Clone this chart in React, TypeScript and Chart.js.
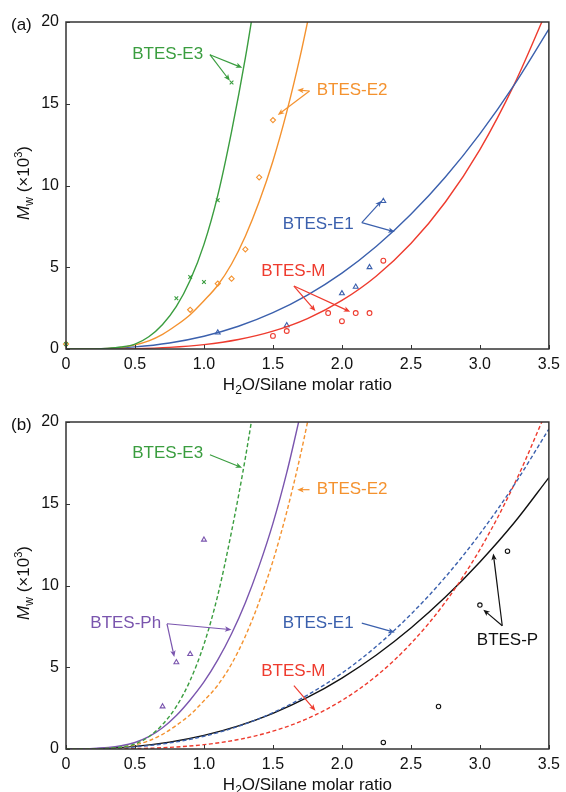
import React, { useEffect, useRef } from 'react';
import { Chart, registerables } from 'chart.js';

Chart.register(...registerables);

// ---------- axes ----------
const xTickValues = [0, 0.5, 1, 1.5, 2, 2.5, 3, 3.5];
const xTickLabels = ['0', '0.5', '1.0', '1.5', '2.0', '2.5', '3.0', '3.5'];
const yTickValues = [0, 5, 10, 15, 20];
const yTickLabels = ['0', '5', '10', '15', '20'];

// ---------- fitted curves ----------
const e3CurveX = [0, 0.2, 0.3, 0.4, 0.5, 0.6, 0.7, 0.8, 0.9, 1.0, 1.1, 1.2, 1.3, 1.4];
const e3CurveY = [0, 0.01, 0.04, 0.12, 0.3, 0.75, 1.5, 2.6, 4.2, 6.4, 9.4, 13.3, 17.8, 23.0];

const e2CurveX = [0, 0.2, 0.4, 0.5, 0.6, 0.7, 0.8, 0.9, 1.0, 1.1, 1.2, 1.3, 1.4, 1.5, 1.6, 1.7, 1.8];
const e2CurveY = [0, 0.01, 0.1, 0.25, 0.5, 0.9, 1.45, 2.1, 2.95, 3.9, 5.2, 6.9, 9.0, 11.5, 14.5, 18.0, 22.0];

const e1CurveX = [0, 0.25, 0.5, 0.75, 1, 1.25, 1.5, 1.75, 2, 2.25, 2.5, 2.75, 3, 3.25, 3.5];
const e1CurveY = [0, 0.02, 0.13, 0.37, 0.78, 1.39, 2.22, 3.3, 4.64, 6.28, 8.24, 10.52, 13.16, 16.17, 19.57];

const mCurveX = [0, 0.25, 0.5, 0.75, 1, 1.25, 1.5, 1.75, 2, 2.25, 2.5, 2.75, 3, 3.25, 3.5];
const mCurveY = [0, 0.002, 0.024, 0.098, 0.266, 0.578, 1.09, 1.86, 2.97, 4.47, 6.45, 8.99, 12.2, 16.2, 21.0];

const pCurveX = [0, 0.25, 0.5, 0.75, 1, 1.25, 1.5, 1.75, 2, 2.25, 2.5, 2.75, 3, 3.25, 3.5];
const pCurveY = [0, 0.03, 0.16, 0.42, 0.83, 1.41, 2.18, 3.15, 4.34, 5.75, 7.4, 9.29, 11.44, 13.85, 16.6];

const phCurveX = [0, 0.2, 0.4, 0.5, 0.6, 0.7, 0.8, 0.9, 1.0, 1.1, 1.2, 1.3, 1.4, 1.5, 1.6, 1.7];
const phCurveY = [0, 0.03, 0.2, 0.4, 0.75, 1.3, 2.05, 3.0, 4.1, 5.45, 7.05, 8.95, 11.2, 13.8, 16.9, 20.5];

// ---------- measured points ----------
const e3PtsX = [0, 0.8, 0.9, 1.0, 1.1, 1.2];
const e3PtsY = [0.3, 3.1, 4.4, 4.1, 9.1, 16.3];

const e2PtsX = [0, 0.9, 1.1, 1.2, 1.3, 1.4, 1.5];
const e2PtsY = [0.3, 2.4, 4.0, 4.3, 6.1, 10.5, 14.0];

const e1PtsX = [1.1, 1.6, 2.0, 2.1, 2.2, 2.3];
const e1PtsY = [1.0, 1.45, 3.4, 3.8, 5.0, 9.05];

const mPtsX = [1.5, 1.6, 1.9, 2.0, 2.1, 2.2, 2.3];
const mPtsY = [0.8, 1.1, 2.2, 1.7, 2.2, 2.2, 5.4];

const phPtsX = [0.7, 0.8, 0.9, 1.0];
const phPtsY = [2.6, 5.3, 5.8, 12.8];

const pPtsX = [2.3, 2.7, 3.0, 3.2];
const pPtsY = [0.4, 2.6, 8.8, 12.1];

// ---------- styling ----------
const GREEN = '#3a9d3f';
const ORANGE = '#f4922f';
const BLUE = '#3b60ad';
const RED = '#ee3b2e';
const PURPLE = '#7a55ae';
const BLACK = '#111111';
const FONT = '"Liberation Sans", Arial, Helvetica, sans-serif';

const zip = (xs: number[], ys: number[]) => xs.map((x, i) => ({ x, y: ys[i] }));

type Annot = { label: string; color: string; tx: number; ty: number; from: [number, number]; tips: [number, number][] };

const annotsA: Annot[] = [
  { label: 'BTES-E3', color: GREEN, tx: 0.737, ty: 18.04, from: [1.043, 18.0], tips: [[1.278, 17.2], [1.188, 16.4]] },
  { label: 'BTES-E2', color: ORANGE, tx: 2.074, ty: 15.84, from: [1.765, 15.78], tips: [[1.676, 15.84], [1.535, 14.31]] },
  { label: 'BTES-E1', color: BLUE, tx: 1.828, ty: 7.65, from: [2.144, 7.73], tips: [[2.288, 9.07], [2.383, 7.17]] },
  { label: 'BTES-M', color: RED, tx: 1.648, ty: 4.73, from: [1.652, 3.85], tips: [[1.808, 2.32], [2.06, 2.28]] },
];

const annotsB: Annot[] = [
  { label: 'BTES-E3', color: GREEN, tx: 0.737, ty: 18.06, from: [1.043, 18.0], tips: [[1.276, 17.2]] },
  { label: 'BTES-E2', color: ORANGE, tx: 2.074, ty: 15.86, from: [1.765, 15.86], tips: [[1.676, 15.86]] },
  { label: 'BTES-Ph', color: PURPLE, tx: 0.433, ty: 7.66, from: [0.732, 7.66], tips: [[1.199, 7.3], [0.785, 5.63]] },
  { label: 'BTES-E1', color: BLUE, tx: 1.828, ty: 7.66, from: [2.144, 7.7], tips: [[2.383, 7.13]] },
  { label: 'BTES-M', color: RED, tx: 1.648, ty: 4.75, from: [1.652, 3.87], tips: [[1.808, 2.34]] },
  { label: 'BTES-P', color: BLACK, tx: 3.2, ty: 6.64, from: [3.162, 7.54], tips: [[3.025, 8.52], [3.097, 11.95]] },
];

function drawArrow(ctx: CanvasRenderingContext2D, x0: number, y0: number, x1: number, y1: number, color: string) {
  const ang = Math.atan2(y1 - y0, x1 - x0);
  const L = 6.5;
  const W = 2.7;
  const c = Math.cos(ang);
  const s = Math.sin(ang);
  ctx.strokeStyle = color;
  ctx.fillStyle = color;
  ctx.lineWidth = 1.2;
  ctx.beginPath();
  ctx.moveTo(x0, y0);
  ctx.lineTo(x1 - c * L * 0.7, y1 - s * L * 0.7);
  ctx.stroke();
  ctx.beginPath();
  ctx.moveTo(x1, y1);
  ctx.lineTo(x1 - c * L + s * W, y1 - s * L - c * W);
  ctx.lineTo(x1 - c * L * 0.75, y1 - s * L * 0.75);
  ctx.lineTo(x1 - c * L - s * W, y1 - s * L + c * W);
  ctx.closePath();
  ctx.fill();
}

type Piece = { t: string; size: number; italic?: boolean; dy?: number };

function drawPieces(ctx: CanvasRenderingContext2D, pieces: Piece[], cx: number, cy: number, color: string) {
  let total = 0;
  const widths = pieces.map((p) => {
    ctx.font = `${p.italic ? 'italic ' : ''}${p.size}px ${FONT}`;
    const w = ctx.measureText(p.t).width;
    total += w;
    return w;
  });
  let x = cx - total / 2;
  ctx.fillStyle = color;
  ctx.textAlign = 'left';
  ctx.textBaseline = 'alphabetic';
  pieces.forEach((p, i) => {
    ctx.font = `${p.italic ? 'italic ' : ''}${p.size}px ${FONT}`;
    ctx.fillText(p.t, x, cy + (p.dy || 0));
    x += widths[i];
  });
}

function decorPlugin(panelLabel: string, annots: Annot[]) {
  return {
    id: 'decor' + panelLabel,
    afterDatasetsDraw(chart: any) {
      const { ctx, chartArea: ca, scales } = chart;
      const xs = scales.x;
      const ys = scales.y;
      ctx.save();
      // frame
      ctx.strokeStyle = '#333333';
      ctx.lineWidth = 1.5;
      ctx.strokeRect(ca.left, ca.top, ca.right - ca.left, ca.bottom - ca.top);
      // inward ticks
      ctx.lineWidth = 1;
      xTickValues.forEach((v) => {
        const px = Math.round(xs.getPixelForValue(v)) + 0.5;
        ctx.beginPath();
        ctx.moveTo(px, ca.bottom);
        ctx.lineTo(px, ca.bottom - 4);
        ctx.stroke();
      });
      yTickValues.forEach((v) => {
        const py = Math.round(ys.getPixelForValue(v)) + 0.5;
        ctx.beginPath();
        ctx.moveTo(ca.left, py);
        ctx.lineTo(ca.left + 4, py);
        ctx.stroke();
      });
      // annotations
      annots.forEach((a) => {
        const ox = xs.getPixelForValue(a.from[0]);
        const oy = ys.getPixelForValue(a.from[1]);
        a.tips.forEach((t) => {
          drawArrow(ctx, ox, oy, xs.getPixelForValue(t[0]), ys.getPixelForValue(t[1]), a.color);
        });
        ctx.font = `17px ${FONT}`;
        ctx.fillStyle = a.color;
        ctx.textAlign = 'center';
        ctx.textBaseline = 'middle';
        ctx.fillText(a.label, xs.getPixelForValue(a.tx), ys.getPixelForValue(a.ty));
      });
      // panel label
      ctx.font = `17px ${FONT}`;
      ctx.fillStyle = BLACK;
      ctx.textAlign = 'left';
      ctx.textBaseline = 'middle';
      ctx.fillText(panelLabel, 11, ca.top + 3);
      // x title
      drawPieces(
        ctx,
        [
          { t: 'H', size: 17 },
          { t: '2', size: 12, dy: 4 },
          { t: 'O/Silane molar ratio', size: 17 },
        ],
        (ca.left + ca.right) / 2,
        ca.bottom + 41,
        BLACK
      );
      // y title
      ctx.save();
      ctx.translate(29, (ca.top + ca.bottom) / 2 - 2.5);
      ctx.rotate(-Math.PI / 2);
      drawPieces(
        ctx,
        [
          { t: 'M', size: 17, italic: true },
          { t: 'w', size: 12, dy: 4 },
          { t: ' (×10', size: 17 },
          { t: '3', size: 11, dy: -7 },
          { t: ')', size: 17 },
        ],
        0,
        0,
        BLACK
      );
      ctx.restore();
      ctx.restore();
    },
  };
}

function curveDs(xs: number[], ys: number[], color: string, dashed: boolean) {
  return {
    type: 'line' as const,
    data: zip(xs, ys),
    borderColor: color,
    backgroundColor: color,
    borderWidth: 1.4,
    borderDash: dashed ? [4, 2.5] : [],
    pointRadius: 0,
    fill: false,
    cubicInterpolationMode: 'monotone' as const,
  };
}

function pointDs(xs: number[], ys: number[], color: string, style: string, r: number) {
  return {
    type: 'scatter' as const,
    data: zip(xs, ys),
    borderColor: color,
    backgroundColor: 'rgba(255,255,255,0)',
    pointStyle: style,
    pointRadius: r,
    pointBorderWidth: 1.1,
    showLine: false,
    clip: false,
  };
}

function makeOptions(padTop: number, xHeight: number) {
  const tickFont = { size: 16, family: FONT };
  return {
    responsive: false,
    animation: false as const,
    devicePixelRatio: 1,
    layout: { padding: { left: 0, right: 13, top: padTop, bottom: 0 } },
    plugins: { legend: { display: false }, tooltip: { enabled: false } },
    events: [],
    scales: {
      x: {
        type: 'linear' as const,
        min: 0,
        max: 3.5,
        afterBuildTicks: (s: any) => {
          s.ticks = xTickValues.map((v) => ({ value: v }));
        },
        afterFit: (s: any) => {
          s.height = xHeight;
        },
        ticks: {
          autoSkip: false,
          maxRotation: 0,
          padding: 6,
          color: BLACK,
          font: tickFont,
          callback: (v: number) => xTickLabels[xTickValues.indexOf(v)] ?? '',
        },
        grid: { display: false, drawTicks: false },
        border: { display: false },
      },
      y: {
        type: 'linear' as const,
        min: 0,
        max: 20,
        afterBuildTicks: (s: any) => {
          s.ticks = yTickValues.map((v) => ({ value: v }));
        },
        afterFit: (s: any) => {
          s.width = 66;
        },
        ticks: {
          autoSkip: false,
          padding: 7,
          color: BLACK,
          font: tickFont,
          callback: (v: number) => yTickLabels[yTickValues.indexOf(v)] ?? '',
        },
        grid: { display: false, drawTicks: false },
        border: { display: false },
      },
    },
  };
}

export default function App() {
  const refA = useRef<HTMLCanvasElement>(null);
  const refB = useRef<HTMLCanvasElement>(null);

  useEffect(() => {
    const chartA = new Chart(refA.current as HTMLCanvasElement, {
      type: 'line',
      data: {
        datasets: [
          curveDs(e3CurveX, e3CurveY, GREEN, false),
          curveDs(e2CurveX, e2CurveY, ORANGE, false),
          curveDs(e1CurveX, e1CurveY, BLUE, false),
          curveDs(mCurveX, mCurveY, RED, false),
          pointDs(e3PtsX, e3PtsY, GREEN, 'crossRot', 2.6),
          pointDs(e2PtsX, e2PtsY, ORANGE, 'rectRot', 2.6),
          pointDs(e1PtsX, e1PtsY, BLUE, 'triangle', 2.8),
          pointDs(mPtsX, mPtsY, RED, 'circle', 2.4),
        ] as any,
      },
      options: makeOptions(22, 47) as any,
      plugins: [decorPlugin('(a)', annotsA)],
    });
    const chartB = new Chart(refB.current as HTMLCanvasElement, {
      type: 'line',
      data: {
        datasets: [
          curveDs(e3CurveX, e3CurveY, GREEN, true),
          curveDs(e2CurveX, e2CurveY, ORANGE, true),
          curveDs(e1CurveX, e1CurveY, BLUE, true),
          curveDs(mCurveX, mCurveY, RED, true),
          curveDs(phCurveX, phCurveY, PURPLE, false),
          curveDs(pCurveX, pCurveY, BLACK, false),
          pointDs(phPtsX, phPtsY, PURPLE, 'triangle', 2.8),
          pointDs(pPtsX, pPtsY, BLACK, 'circle', 2.2),
        ] as any,
      },
      options: makeOptions(26, 43) as any,
      plugins: [decorPlugin('(b)', annotsB)],
    });
    return () => {
      chartA.destroy();
      chartB.destroy();
    };
  }, []);

  return (
    <div style={{ position: 'absolute', left: 0, top: 0, width: 566, height: 792, background: '#ffffff' }}>
      <canvas ref={refA} width={566} height={396} style={{ display: 'block', width: 566, height: 396 }} />
      <canvas ref={refB} width={566} height={396} style={{ display: 'block', width: 566, height: 396 }} />
    </div>
  );
}
